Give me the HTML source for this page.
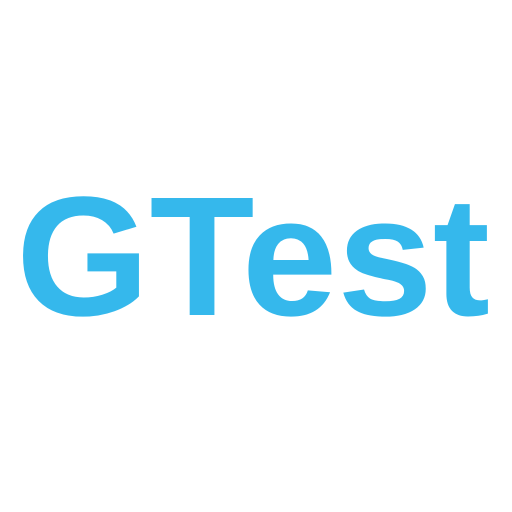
<!DOCTYPE html>
<html><head><meta charset="utf-8"><style>
html,body{margin:0;padding:0;background:#fff;width:512px;height:512px;overflow:hidden}
</style></head><body>
<svg width="512" height="512" viewBox="0 0 512 512">
<rect width="512" height="512" fill="#fff"/>
<text x="16" y="315" font-family="Liberation Sans, Arial, sans-serif" font-weight="bold" font-size="170" fill="#35B8EC" textLength="474" lengthAdjust="spacingAndGlyphs">GTest</text>
</svg>
</body></html>
